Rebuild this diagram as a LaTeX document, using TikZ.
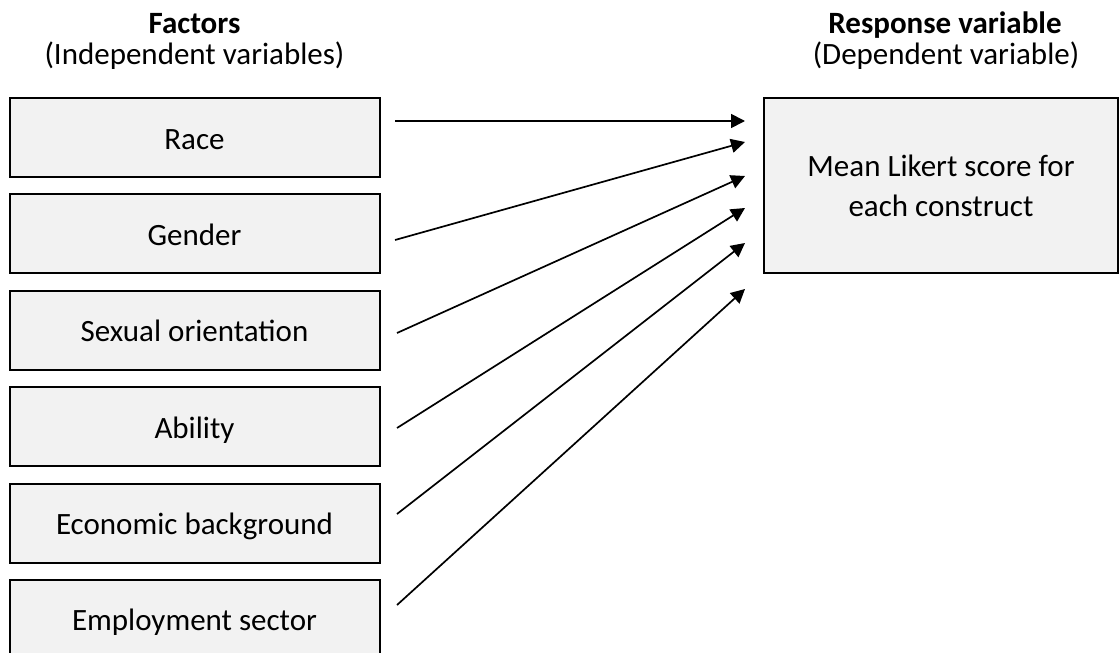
\documentclass[tikz,border=0pt]{standalone}
\usepackage{fontspec}
\setmainfont{Carlito}
\usetikzlibrary{arrows.meta}
\definecolor{boxfill}{HTML}{F2F2F2}
\tikzset{
  factorbox/.style={draw=black, line width=2pt, fill=boxfill, minimum width=370pt, minimum height=79pt,
    inner sep=0pt, text height=23pt, text depth=0pt, font=\fontsize{31}{40}\selectfont},
  responsebox/.style={draw=black, line width=2pt, fill=boxfill, minimum width=354pt, minimum height=175pt,
    inner sep=0pt, align=center, font=\fontsize{31}{40}\selectfont},
  header/.style={anchor=base, inner sep=0pt, font=\fontsize{31}{40}\selectfont},
  arrowline/.style={line width=1.7pt, -{Triangle[length=14pt, width=14pt]}}
}
\begin{document}
\begin{tikzpicture}[x=1pt, y=-1pt]
\useasboundingbox (0,0) rectangle (1119,653);
\begin{scope}
\clip (0,0) rectangle (1119,653);
% headers
\node[header, font=\fontsize{31}{40}\selectfont\bfseries] (hf) at (194.5,33) {Factors};
\node[header] (hi) at (194.5,64) {(Independent variables)};
\node[header, font=\fontsize{31}{40}\selectfont\bfseries] (hr) at (945,33) {Response variable};
\node[header] (hd) at (946,64) {(Dependent variable)};
% factor boxes
\node[factorbox] (race) at (194.5,137.5) {Race};
\node[factorbox] (gender) at (194.5,233.5) {Gender};
\node[factorbox] (sexual) at (194.5,330) {Sexual orientation};
\node[factorbox] (ability) at (194.5,426.5) {Ability};
\node[factorbox] (econ) at (194.5,523) {Economic background};
\node[factorbox] (employ) at (194.5,619) {Employment sector};
% response box
\node[responsebox] (resp) at (941,185.5) {Mean Likert score for\\each construct};
% arrow end points
\coordinate (s1) at (395,121);
\coordinate (s2) at (395,240);
\coordinate (s3) at (397,333);
\coordinate (s4) at (397,428);
\coordinate (s5) at (397,514);
\coordinate (s6) at (397,605);
\coordinate (t1) at (745,121);
\coordinate (t2) at (745,142);
\coordinate (t3) at (745,176);
\coordinate (t4) at (745,208);
\coordinate (t5) at (745,243);
\coordinate (t6) at (745,289);
\draw[arrowline] (s1) -- (t1);
\draw[arrowline] (s2) -- (t2);
\draw[arrowline] (s3) -- (t3);
\draw[arrowline] (s4) -- (t4);
\draw[arrowline] (s5) -- (t5);
\draw[arrowline] (s6) -- (t6);
\end{scope}
\end{tikzpicture}
\end{document}
